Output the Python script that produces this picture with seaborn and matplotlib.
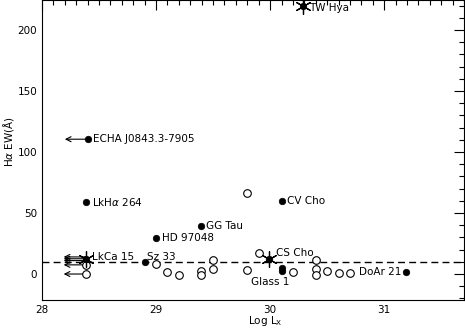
import pandas as pd
import matplotlib
matplotlib.use('Agg')
import matplotlib.pyplot as plt
from matplotlib.ticker import MultipleLocator
import seaborn as sns

# Named sources (filled circles)
det_x = [30.29, 28.40, 28.39, 30.10, 29.39, 29.00, 28.90, 28.39, 29.99, 31.19, 30.10, 30.10]
det_y = [220.0, 110.5, 59.0, 60.0, 39.5, 29.5, 9.5, 12.5, 12.5, 1.5, 5.0, 2.5]

# Star symbols overplotted
star_x = [30.29, 28.39, 29.99]
star_y = [220.0, 12.5, 12.5]

# Open circles
open_x = [29.00, 29.10, 29.20, 29.39, 29.39, 29.50, 29.50, 29.80, 29.90, 29.80,
          30.20, 30.40, 30.40, 30.40, 30.50, 30.60, 30.70, 28.39, 28.39]
open_y = [8.0, 1.5, -0.8, 2.5, -0.8, 11.5, 4.0, 3.3, 17.0, 66.0,
          1.5, 11.5, 4.0, -1.0, 2.5, 0.8, 1.0, 7.5, 0.0]

# Upper limits in Lx (arrows pointing left)
lim_x = [28.40, 28.39, 28.39, 28.39, 28.39, 28.39]
lim_y = [110.5, 12.5, 14.0, 11.0, 7.5, 0.0]

# Labels
lab_names = ['TW Hya', 'ECHA J0843.3-7905', 'LkH$\\alpha$ 264', 'CV Cho', 'GG Tau',
             'HD 97048', 'Sz 33', 'LkCa 15', 'CS Cho', 'DoAr 21', 'Glass 1']
lab_x = [30.29, 28.40, 28.39, 30.10, 29.39, 29.00, 28.90, 28.39, 29.99, 31.19, 30.10]
lab_y = [220.0, 110.5, 59.0, 60.0, 39.5, 29.5, 9.5, 12.5, 12.5, 1.5, 2.5]
lab_dx = [4, 4, 4, 4, 4, 4, 2, 4, 5, -3, -22]
lab_dy = [-2, 0, 0, 0, 0, 0, 4, 1, 4, 0, -8]

sns.set_style('white')
plt.rcParams['font.family'] = ['DejaVu Sans']
plt.rcParams['text.color'] = 'black'
plt.rcParams['axes.labelcolor'] = 'black'
plt.rcParams['xtick.color'] = 'black'
plt.rcParams['ytick.color'] = 'black'

fig = plt.figure(figsize=(4.65, 3.31), dpi=100)
ax = fig.add_axes([42/465, 1 - 300/331, 422/465, 300/331])

# dashed threshold line
ax.axhline(10, color='black', lw=1, ls=(0, (5, 3)), zorder=1)

for x, y in zip(lim_x, lim_y):
    ax.annotate('', xy=(x - 0.2, y), xytext=(x, y),
                arrowprops=dict(arrowstyle='->', lw=0.8, color='black',
                                shrinkA=0, shrinkB=0, mutation_scale=9))

sns.scatterplot(x=open_x, y=open_y, ax=ax, marker='o', s=30,
                facecolor='white', edgecolor='black', linewidth=0.8, zorder=3)
sns.scatterplot(x=det_x, y=det_y, ax=ax, marker='o', s=22,
                color='black', edgecolor='black', linewidth=0.5, zorder=4)
sns.scatterplot(x=star_x, y=star_y, ax=ax, marker=(6, 2, 0), s=130,
                color='black', linewidth=0.9, zorder=5)

for n, x, y, dx, dy in zip(lab_names, lab_x, lab_y, lab_dx, lab_dy):
    ax.annotate(n, xy=(x, y), xytext=(dx, dy), textcoords='offset points',
                ha='right' if dx < 0 and n != 'Glass 1' else 'left',
                va='center', fontsize=7.5)

ax.set_xlim(28, 31.7)
ax.set_ylim(-21.3, 224.6)
ax.xaxis.set_major_locator(MultipleLocator(1))
ax.xaxis.set_minor_locator(MultipleLocator(0.1))
ax.yaxis.set_major_locator(MultipleLocator(50))
ax.yaxis.set_minor_locator(MultipleLocator(10))
ax.tick_params(which='both', direction='in', top=True, right=True,
               labelsize=7.5, width=0.8, color='black')
ax.tick_params(which='major', length=7)
ax.tick_params(which='minor', length=3.5)
for s in ax.spines.values():
    s.set_color('black')
    s.set_linewidth(0.8)

ax.set_xlabel('Log L$_{\\rm X}$', fontsize=7.5)
ax.set_ylabel('H$\\alpha$ EW($\\rm\\AA$)', fontsize=7.5)
ax.xaxis.set_label_coords(0.53, -0.045)
ax.yaxis.set_label_coords(-0.062, 0.53)

fig.savefig('out.png', dpi=100)
